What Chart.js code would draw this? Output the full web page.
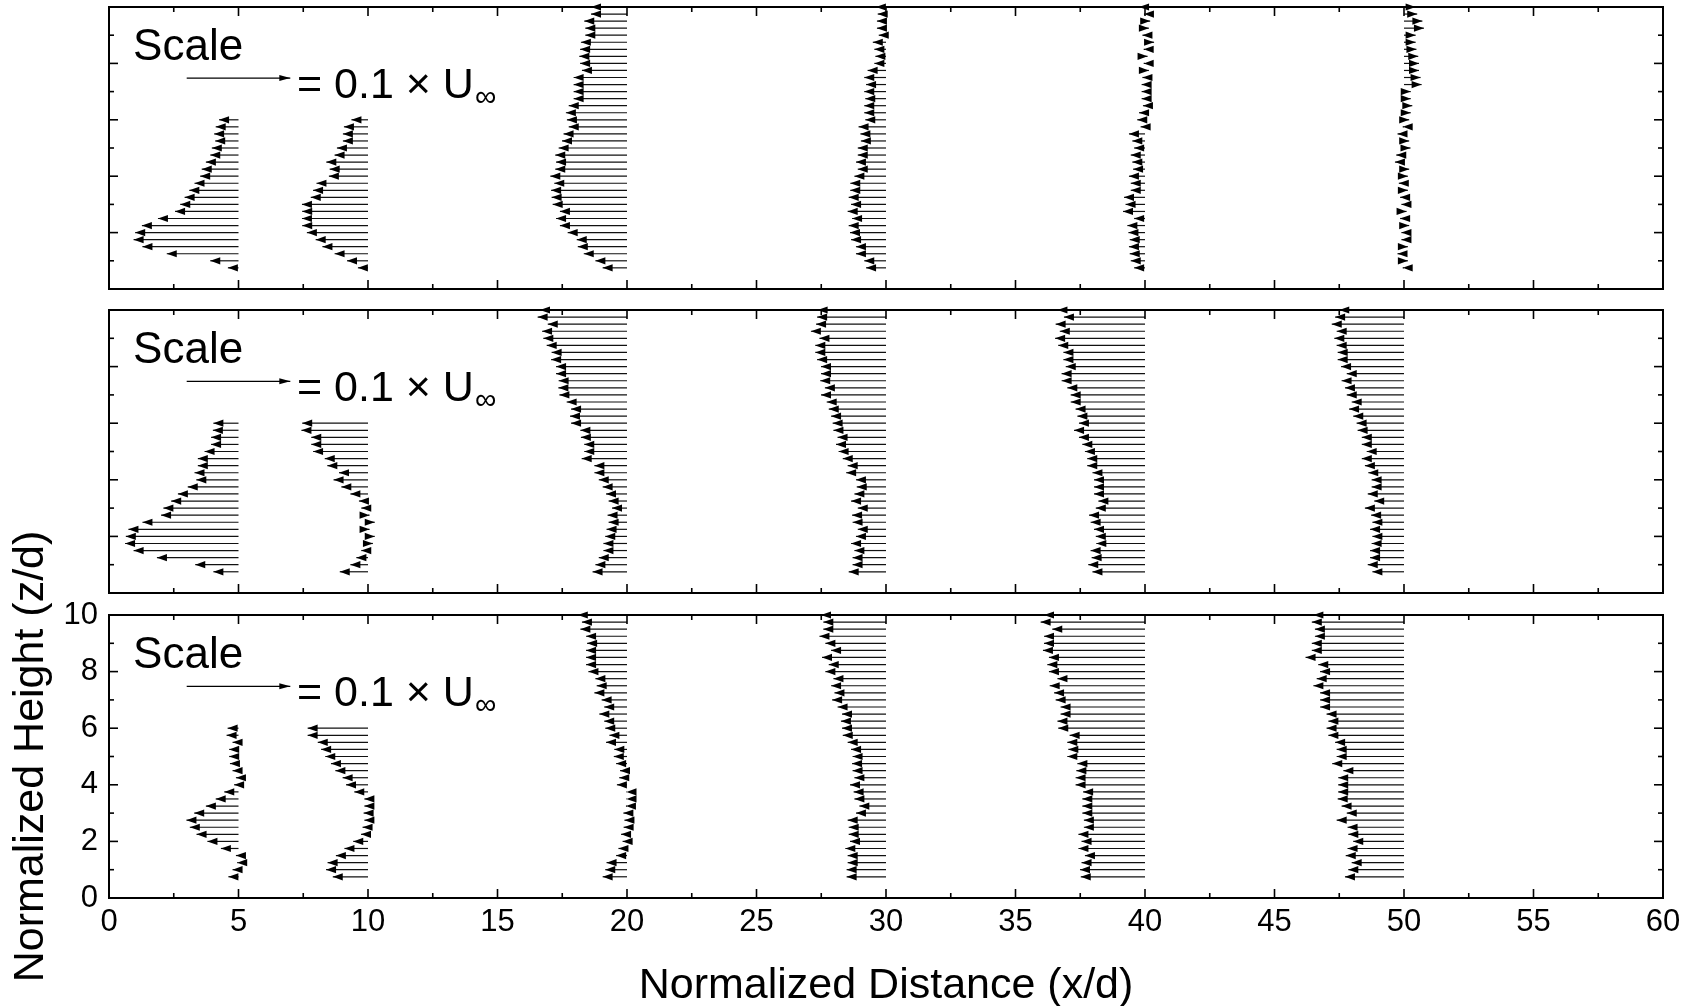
<!DOCTYPE html>
<html>
<head>
<meta charset="utf-8">
<script src="https://cdn.jsdelivr.net/npm/chart.js@4.4.1/dist/chart.umd.min.js"></script>
<style>
  html, body { margin: 0; padding: 0; background: #fff; }
  #wrap { position: relative; width: 1696px; height: 1006px; overflow: hidden; background: #fff; }
  #wrap canvas { position: absolute; left: 0; top: 0; }
</style>
</head>
<body>
<div id="wrap">
  <canvas id="panelTop" width="1696" height="1006"></canvas>
  <canvas id="panelMid" width="1696" height="1006"></canvas>
  <canvas id="panelBot" width="1696" height="1006"></canvas>
</div>
<script>
// measuring stations (x/d) where the profiles start
const stations = [5, 10, 20, 30, 40, 50];

// measurement heights (z/d): short profiles near the source, full profiles further down
const zNear = [6.0, 5.75, 5.5, 5.25, 5.0, 4.75, 4.5, 4.25, 4.0, 3.75, 3.5,
  3.25, 3.0, 2.75, 2.5, 2.25, 2.0, 1.75, 1.5, 1.25, 1.0, 0.75];
const zFar = [10.0, 9.75, 9.5, 9.25, 9.0, 8.75, 8.5, 8.25, 8.0, 7.75, 7.5,
  7.25, 7.0, 6.75, 6.5, 6.25, 6.0, 5.75, 5.5, 5.25, 5.0, 4.75, 4.5, 4.25,
  4.0, 3.75, 3.5, 3.25, 3.0, 2.75, 2.5, 2.25, 2.0, 1.75, 1.5, 1.25, 1.0, 0.75];

// arrow lengths in x/d units (positive = pointing upstream, 4 x/d = 0.1 U_inf)
const top_x5 = [0.75, 0.88, 0.94, 0.90, 1.03, 1.09, 1.26, 1.42, 1.48, 1.70, 1.90,
  2.08, 2.25, 2.45, 3.11, 3.73, 3.99, 4.05, 3.71, 2.77, 1.09, 0.41];
const top_x10 = [0.64, 0.93, 0.97, 0.97, 1.20, 1.29, 1.61, 1.48, 1.51, 1.99, 2.12,
  2.21, 2.55, 2.54, 2.55, 2.54, 2.36, 2.02, 1.76, 1.29, 0.81, 0.39];
const top_x20 = [1.39, 1.39, 1.65, 1.61, 1.61, 1.78, 1.81, 1.84, 1.81, 1.74,
  2.06, 2.06, 2.06, 2.06, 2.25, 2.36, 2.32, 2.25, 2.45, 2.51,
  2.64, 2.77, 2.74, 2.77, 2.96, 2.81, 2.93, 2.91, 2.87, 2.59,
  2.74, 2.59, 2.29, 1.94, 1.90, 1.67, 1.22, 0.94];
const top_x30 = [0.39, 0.32, 0.35, 0.35, 0.28, 0.51, 0.45, 0.41, 0.45, 0.71,
  0.84, 0.77, 0.84, 0.80, 0.84, 0.84, 0.80, 1.06, 0.99, 0.97,
  1.09, 1.09, 1.16, 1.09, 1.22, 1.38, 1.38, 1.44, 1.35, 1.48,
  1.31, 1.44, 1.39, 1.35, 1.16, 1.16, 0.84, 0.77];
const top_x40 = [0.23, 0.04, -0.20, -0.15, 0.10, -0.35, 0.05, -0.10, 0.05, -0.15,
  0.10, 0.13, 0.13, 0.13, 0.08, 0.23, 0.30, 0.17, 0.62, 0.49,
  0.42, 0.55, 0.49, 0.46, 0.62, 0.55, 0.55, 0.81, 0.75, 0.85,
  0.42, 0.68, 0.64, 0.59, 0.62, 0.59, 0.55, 0.42];
const top_x50 = [-0.45, -0.51, -0.71, -0.77, -0.45, -0.45, -0.48, -0.55, -0.58, -0.58,
  -0.64, -0.68, -0.26, -0.26, -0.32, -0.26, -0.20, 0.05, 0.25, -0.20,
  -0.25, 0.30, 0.35, -0.20, -0.15, 0.20, -0.15, 0.15, 0.10, -0.10,
  0.15, -0.20, 0.10, 0.10, -0.15, 0.25, -0.15, 0.05];

const mid_x5 = [0.97, 0.99, 1.06, 1.06, 1.31, 1.57, 1.57, 1.70, 1.63, 1.96, 2.34,
  2.60, 2.90, 2.99, 3.71, 4.25, 4.35, 4.38, 4.05, 3.15, 1.67, 0.97];
const mid_x10 = [2.54, 2.57, 2.19, 2.19, 2.12, 1.67, 1.57, 1.12, 1.33, 1.03, 0.68,
  0.35, 0.26, -0.06, -0.26, -0.06, -0.26, -0.19, 0.26, 0.45, 0.68, 1.09];
const mid_x20 = [3.36, 3.45, 3.06, 3.28, 3.23, 3.10, 2.91, 2.93, 2.74, 2.74,
  2.64, 2.65, 2.61, 2.33, 2.16, 2.20, 2.16, 1.80, 1.78, 1.65,
  1.65, 1.75, 1.26, 1.26, 1.09, 0.94, 0.81, 0.71, 0.58, 0.75,
  0.71, 0.79, 0.84, 0.91, 0.91, 1.09, 1.22, 1.33];
const mid_x30 = [2.64, 2.66, 2.70, 2.90, 2.57, 2.73, 2.73, 2.66, 2.51, 2.51,
  2.54, 2.36, 2.51, 2.29, 2.21, 2.12, 2.06, 2.03, 1.87, 1.93,
  1.83, 1.67, 1.48, 1.54, 1.16, 1.13, 1.22, 1.35, 1.09, 1.31,
  1.29, 1.09, 1.16, 1.35, 1.22, 1.29, 1.29, 1.44];
const mid_x40 = [3.38, 3.13, 3.45, 3.29, 3.47, 3.35, 3.15, 3.15, 3.06, 3.22,
  3.22, 3.00, 2.87, 2.87, 2.68, 2.61, 2.55, 2.74, 2.55, 2.42,
  2.32, 2.23, 2.23, 2.03, 1.97, 1.97, 1.97, 1.80, 1.90, 2.16,
  2.10, 1.97, 1.90, 1.88, 2.10, 2.06, 2.19, 2.03];
const mid_x50 = [2.50, 2.66, 2.79, 2.60, 2.69, 2.60, 2.56, 2.56, 2.43, 2.21,
  2.41, 2.28, 2.21, 2.02, 2.12, 1.96, 1.83, 1.79, 1.63, 1.63,
  1.44, 1.63, 1.51, 1.38, 1.25, 1.25, 1.40, 1.15, 1.51, 1.27,
  1.22, 1.31, 1.22, 1.25, 1.31, 1.31, 1.40, 1.22];

const bot_x5 = [0.42, 0.46, 0.23, 0.36, 0.36, 0.33, 0.23, 0.10, 0.17, 0.55, 0.88,
  1.26, 1.71, 2.01, 1.88, 1.62, 1.20, 0.68, 0.10, 0.05, 0.23, 0.39];
const bot_x10 = [2.33, 2.33, 1.94, 1.81, 1.65, 1.43, 1.26, 0.98, 0.85, 0.53, 0.14,
  0.14, 0.17, 0.14, 0.21, 0.27, 0.57, 0.91, 1.24, 1.56, 1.62, 1.36];
const bot_x20 = [1.90, 1.74, 1.80, 1.58, 1.54, 1.58, 1.58, 1.58, 1.49, 1.22,
  1.17, 1.26, 0.98, 0.88, 1.07, 0.88, 0.84, 0.68, 0.81, 0.49,
  0.51, 0.42, 0.27, 0.30, 0.39, 0.02, 0.02, 0.04, 0.14, 0.10,
  0.13, 0.23, 0.17, 0.33, 0.42, 0.79, 0.84, 0.94];
const bot_x30 = [2.51, 2.42, 2.42, 2.57, 2.34, 2.12, 2.47, 2.21, 2.34, 2.03,
  2.12, 1.99, 2.08, 1.87, 1.70, 1.74, 1.70, 1.67, 1.48, 1.35,
  1.29, 1.31, 1.29, 1.22, 1.39, 1.25, 1.22, 1.03, 1.16, 1.48,
  1.44, 1.44, 1.39, 1.57, 1.48, 1.48, 1.52, 1.52];
const bot_x40 = [3.90, 4.03, 3.58, 3.90, 3.90, 3.94, 3.71, 3.77, 3.71, 3.38,
  3.68, 3.51, 3.45, 3.26, 3.26, 3.38, 3.35, 2.91, 3.00, 2.96,
  3.00, 2.61, 2.65, 2.68, 2.68, 2.39, 2.42, 2.42, 2.42, 2.36,
  2.36, 2.57, 2.45, 2.57, 2.32, 2.45, 2.51, 2.48];
const bot_x50 = [3.50, 3.56, 3.44, 3.44, 3.56, 3.56, 3.80, 3.31, 3.24, 3.37,
  3.50, 3.24, 3.24, 3.24, 2.99, 2.92, 2.99, 2.92, 2.66, 2.60,
  2.60, 2.77, 2.34, 2.54, 2.54, 2.54, 2.56, 2.41, 2.21, 2.60,
  2.18, 2.15, 1.96, 2.18, 2.25, 2.02, 2.15, 2.28];

// axes
const xTicks = [0, 5, 10, 15, 20, 25, 30, 35, 40, 45, 50, 55, 60];
const zTicks = [0, 2, 4, 6, 8, 10];
const xTitle = 'Normalized Distance (x/d)';
const zTitle = 'Normalized Height (z/d)';

// reference arrow drawn in every panel
const keyWord = 'Scale';
const keyText = '= 0.1 \u00d7 U';
const keySub = '\u221e';
const KEY_LENGTH = 4;

const FONT = '"Liberation Sans", Arial, Helvetica, sans-serif';
const W = 1696, H = 1006;
const PLOT_LEFT = 109, PLOT_RIGHT = 1663;

function drawArrow(ctx, x0, y0, x1, y1, headLen, headHalf) {
  const dir = x1 < x0 ? -1 : 1;
  ctx.beginPath();
  ctx.moveTo(x0, y0);
  ctx.lineTo(x1, y1);
  ctx.stroke();
  ctx.beginPath();
  ctx.moveTo(x1, y1);
  ctx.lineTo(x1 - dir * headLen, y1 - headHalf);
  ctx.lineTo(x1 - dir * headLen, y1 + headHalf);
  ctx.closePath();
  ctx.fill();
}

// vectors: tail at the station, head at the data point
const quiverPlugin = {
  id: 'quiver',
  afterDatasetsDraw(chart) {
    const { ctx, scales: { x } } = chart;
    ctx.save();
    ctx.strokeStyle = '#111';
    ctx.fillStyle = '#000';
    ctx.lineWidth = 1.2;
    chart.data.datasets.forEach((ds, i) => {
      const x0 = x.getPixelForValue(ds.base);
      chart.getDatasetMeta(i).data.forEach(pt => {
        drawArrow(ctx, x0, pt.y, pt.x, pt.y, 10, 3.6);
      });
    });
    ctx.restore();
  }
};

// box with inward major/minor ticks on all four sides
const framePlugin = {
  id: 'frame',
  afterDraw(chart) {
    const { ctx, chartArea: a, scales: { x, y } } = chart;
    ctx.save();
    ctx.strokeStyle = '#000';
    ctx.lineWidth = 1.6;
    const seg = (x1, y1, x2, y2) => {
      ctx.beginPath(); ctx.moveTo(x1, y1); ctx.lineTo(x2, y2); ctx.stroke();
    };
    const marks = (ticks) => {
      const out = ticks.map(v => ({ v, len: 9 }));
      for (let i = 0; i < ticks.length - 1; i++) {
        out.push({ v: (ticks[i] + ticks[i + 1]) / 2, len: 5 });
      }
      return out;
    };
    marks(xTicks).forEach(m => {
      const p = x.getPixelForValue(m.v);
      seg(p, a.bottom, p, a.bottom - m.len);
      seg(p, a.top, p, a.top + m.len);
    });
    marks(zTicks).forEach(m => {
      const p = y.getPixelForValue(m.v);
      seg(a.left, p, a.left + m.len, p);
      seg(a.right, p, a.right - m.len, p);
    });
    ctx.lineWidth = 2;
    ctx.strokeRect(a.left, a.top, a.right - a.left, a.bottom - a.top);
    ctx.restore();
  }
};

// "Scale  --> = 0.1 x U_inf" key
const keyPlugin = {
  id: 'scaleKey',
  afterDraw(chart) {
    const { ctx, scales: { x, y } } = chart;
    ctx.save();
    ctx.fillStyle = '#000';
    ctx.strokeStyle = '#000';
    ctx.textBaseline = 'alphabetic';
    ctx.textAlign = 'left';
    ctx.font = '44px ' + FONT;
    ctx.fillText(keyWord, x.getPixelForValue(0.93), y.getPixelForValue(8.13));

    ctx.lineWidth = 1.2;
    const ay = y.getPixelForValue(7.48);
    drawArrow(ctx, x.getPixelForValue(3.0), ay, x.getPixelForValue(3.0 + KEY_LENGTH), ay, 11, 3);

    ctx.font = '43px ' + FONT;
    const tx = x.getPixelForValue(7.26);
    const ty = y.getPixelForValue(6.79);
    ctx.fillText(keyText, tx, ty);
    const w = ctx.measureText(keyText).width;
    ctx.font = '30px ' + FONT;
    ctx.fillText(keySub, tx + w + 1, ty + 8);
    ctx.restore();
  }
};

function makePanel(canvasId, top, bottom, lengths, withAxes) {
  const datasets = stations.map((x0, i) => {
    const len = lengths[i];
    const zs = len.length === zNear.length ? zNear : zFar;
    return {
      label: 'x/d = ' + x0,
      base: x0,
      data: zs.map((z, k) => ({ x: x0 - len[k], y: z })),
      pointRadius: 0,
      pointHoverRadius: 0,
      showLine: false
    };
  });

  const tickFont = { family: FONT, size: 31 };
  const padding = withAxes
    ? { left: 0, right: W - PLOT_RIGHT, top: top, bottom: 0 }
    : { left: PLOT_LEFT, right: W - PLOT_RIGHT, top: top, bottom: H - bottom };

  return new Chart(document.getElementById(canvasId), {
    type: 'scatter',
    data: { datasets },
    options: {
      responsive: false,
      animation: false,
      events: [],
      layout: { padding },
      plugins: { legend: { display: false }, tooltip: { enabled: false } },
      scales: {
        x: {
          type: 'linear', min: 0, max: 60, display: withAxes,
          grid: { display: false, drawTicks: false },
          border: { display: false },
          afterBuildTicks: s => { s.ticks = xTicks.map(v => ({ value: v })); },
          afterFit: s => { if (withAxes) s.height = H - bottom; },
          ticks: { autoSkip: false, maxRotation: 0, color: '#000', font: tickFont, padding: 6 },
          title: {
            display: true, text: xTitle, color: '#000',
            font: { family: FONT, size: 43, lineHeight: 0.9 },
            padding: { top: 0, bottom: 1 }
          }
        },
        y: {
          type: 'linear', min: 0, max: 10, display: withAxes,
          grid: { display: false, drawTicks: false },
          border: { display: false },
          afterBuildTicks: s => { s.ticks = zTicks.map(v => ({ value: v })); },
          afterFit: s => { if (withAxes) s.width = PLOT_LEFT; },
          ticks: { autoSkip: false, color: '#000', font: tickFont, padding: 11 },
          title: {
            display: true, text: zTitle, color: '#000',
            font: { family: FONT, size: 43 },
            padding: { top: 5, bottom: 0 }
          }
        }
      }
    },
    plugins: [quiverPlugin, framePlugin, keyPlugin]
  });
}

makePanel('panelTop', 7, 289, [top_x5, top_x10, top_x20, top_x30, top_x40, top_x50], false);
makePanel('panelMid', 310, 593, [mid_x5, mid_x10, mid_x20, mid_x30, mid_x40, mid_x50], false);
makePanel('panelBot', 615, 898, [bot_x5, bot_x10, bot_x20, bot_x30, bot_x40, bot_x50], true);
</script>
</body>
</html>
